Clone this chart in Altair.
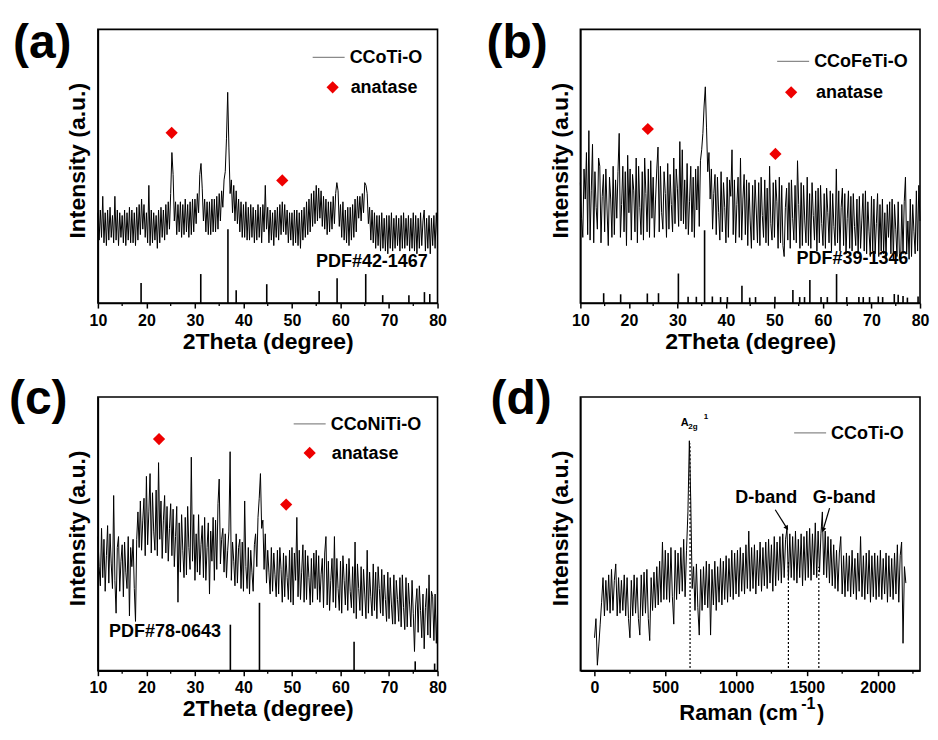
import altair as alt
import numpy as np
import pandas as pd

FONT = "Liberation Sans"
RED = "#ee0000"
W, H = 340, 274

XRD_TICKS = [10, 20, 30, 40, 50, 60, 70, 80]
XRD_MINOR = [15, 25, 35, 45, 55, 65, 75]
RAMAN_TICKS = [0, 500, 1000, 1500, 2000]
RAMAN_MINOR = [250, 750, 1250, 1750, 2250]

# ---------------- (a) CCoTi-O XRD, 10..80 step 0.25 ----------------
A_Y = [
    33, 23, 34, 24, 39, 22, 33, 21, 34, 23, 35, 24, 32, 22, 39, 23,
    34, 21, 33, 24, 32, 22, 34, 21, 33, 23, 35, 22, 34, 22, 33, 21,
    35, 23, 36, 25, 38, 27, 36, 24, 33, 22, 43, 21, 34, 22, 33, 23,
    32, 20, 34, 22, 35, 24, 34, 23, 36, 25, 37, 27, 40, 55, 47, 30,
    37, 25, 36, 26, 37, 24, 36, 25, 38, 26, 36, 24, 37, 25, 38, 26,
    38, 29, 40, 33, 47, 51, 42, 30, 38, 26, 37, 25, 37, 25, 38, 26,
    38, 26, 39, 27, 40, 30, 41, 35, 45, 48, 60, 77, 57, 40, 45, 33,
    43, 30, 41, 29, 38, 26, 37, 24, 36, 24, 37, 23, 35, 23, 36, 24,
    35, 22, 34, 23, 36, 24, 35, 22, 36, 26, 43, 27, 35, 22, 34, 23,
    33, 21, 34, 24, 35, 23, 36, 25, 37, 26, 36, 25, 34, 22, 33, 23,
    33, 21, 34, 22, 34, 21, 33, 20, 34, 23, 35, 24, 37, 25, 38, 26,
    40, 28, 41, 29, 43, 30, 42, 31, 41, 28, 39, 27, 38, 25, 37, 26,
    37, 27, 39, 29, 40, 44, 41, 28, 36, 24, 37, 23, 34, 22, 35, 21,
    35, 23, 36, 24, 38, 26, 39, 31, 39, 30, 40, 33, 44, 43, 40, 29,
    35, 23, 34, 22, 33, 20, 32, 21, 32, 19, 33, 20, 31, 19, 32, 18,
    32, 20, 33, 19, 31, 20, 32, 21, 31, 19, 32, 20, 33, 20, 31, 21,
    32, 19, 31, 20, 33, 19, 32, 18, 31, 20, 33, 21, 30, 34, 19, 31,
    20, 32, 18, 31, 21, 32, 20, 33, 24,
]
A_STICK_X = [18.9, 31.2, 36.8, 38.5, 44.8, 55.6, 59.3, 65.2, 68.7, 74.1, 77.3, 78.4]
A_STICK_H = [7.3, 10.6, 27.0, 4.7, 6.9, 4.4, 9.1, 10.6, 2.9, 2.9, 4.0, 3.3]
A_DIAM_X = [25.2, 48.0]
A_DIAM_Y = [62.2, 44.8]

# ---------------- (b) CCoFeTi-O XRD ----------------
B_Y = [
    44, 31, 24, 49, 38, 55, 25, 63, 23, 41, 58, 22, 48, 35, 27, 53,
    50, 22, 39, 47, 26, 49, 34, 21, 46, 38, 24, 50, 25, 45, 31, 48,
    62, 24, 36, 50, 26, 48, 21, 54, 33, 49, 23, 47, 41, 26, 53, 22,
    50, 35, 25, 48, 23, 53, 40, 26, 49, 24, 52, 31, 46, 24, 38, 49,
    57, 26, 50, 33, 27, 48, 40, 24, 51, 27, 47, 36, 26, 53, 29, 49,
    42, 28, 59, 30, 56, 29, 45, 27, 51, 25, 37, 50, 26, 46, 24, 49,
    34, 50, 28, 52, 56, 62, 72, 79, 64, 48, 55, 38, 49, 27, 40, 47,
    25, 46, 33, 23, 48, 26, 44, 35, 22, 46, 24, 45, 39, 56, 25, 45,
    22, 36, 46, 24, 53, 23, 38, 47, 25, 45, 21, 44, 30, 20, 43, 23,
    45, 34, 22, 44, 21, 46, 32, 24, 45, 22, 42, 21, 50, 29, 23, 44,
    24, 45, 37, 20, 46, 22, 43, 21, 17, 35, 42, 23, 44, 20, 45, 31,
    23, 43, 22, 52, 36, 20, 44, 21, 43, 30, 22, 46, 21, 40, 20, 44,
    32, 23, 41, 19, 42, 22, 43, 29, 21, 40, 20, 42, 33, 22, 41, 19,
    40, 28, 21, 49, 22, 41, 19, 35, 42, 21, 40, 18, 31, 41, 20, 39,
    19, 40, 28, 21, 38, 18, 39, 20, 30, 40, 19, 41, 18, 37, 26, 17,
    39, 19, 38, 18, 29, 40, 17, 36, 19, 38, 18, 33, 16, 36, 24, 37,
    18, 38, 16, 36, 27, 17, 37, 18, 15, 36, 18, 37, 46, 18, 30, 16,
    38, 17, 36, 26, 18, 41, 19, 43, 30,
]
B_STICK_X = [14.8, 18.3, 23.8, 26.1, 30.2, 32.2, 33.9, 35.6, 37.2, 38.9, 40.3,
             43.3, 44.9, 46.1, 50.1, 53.8, 55.2, 56.2, 57.3, 59.6, 60.9, 62.8,
             64.9, 67.4, 68.3, 69.6, 71.4, 72.3, 74.7, 75.5, 76.5, 77.4, 79.6]
B_STICK_H = [3.6, 3.2, 3.5, 3.6, 10.8, 2.3, 2.3, 26.6, 2.4, 2.2, 2.2,
             6.3, 2.0, 2.2, 2.3, 4.8, 2.2, 2.2, 8.4, 2.2, 2.2, 10.6,
             2.2, 2.2, 2.2, 2.2, 2.4, 2.2, 3.3, 3.0, 2.6, 2.0, 2.4]
B_DIAM_X = [23.9, 50.2]
B_DIAM_Y = [63.6, 54.5]

# ---------------- (c) CCoNiTi-O XRD ----------------
C_Y = [
    49, 38, 31, 52, 34, 48, 29, 42, 53, 32, 50, 39, 30, 64, 33, 21,
    45, 49, 29, 40, 46, 27, 47, 36, 30, 49, 20, 45, 38, 48, 30, 18,
    48, 58, 45, 62, 44, 55, 63, 42, 71, 46, 58, 72, 43, 65, 51, 44,
    66, 42, 76, 48, 62, 41, 55, 64, 43, 60, 40, 52, 61, 42, 59, 38,
    49, 60, 25, 54, 36, 57, 44, 34, 56, 35, 60, 45, 37, 78, 40, 57,
    33, 50, 36, 57, 35, 46, 53, 34, 56, 33, 45, 54, 28, 51, 40, 56,
    33, 55, 37, 61, 70, 39, 48, 52, 36, 50, 34, 44, 51, 80, 33, 47,
    40, 31, 50, 32, 45, 48, 30, 47, 29, 62, 38, 30, 45, 28, 44, 36,
    29, 46, 50, 38, 56, 63, 72, 52, 55, 37, 50, 32, 44, 36, 28, 45,
    29, 43, 35, 27, 44, 28, 45, 37, 25, 43, 27, 42, 34, 26, 44, 25,
    45, 24, 43, 33, 56, 27, 44, 26, 36, 46, 25, 44, 26, 42, 34, 24,
    41, 25, 43, 30, 44, 26, 42, 25, 35, 41, 23, 43, 49, 24, 40, 22,
    33, 41, 25, 49, 23, 41, 30, 22, 40, 21, 42, 33, 24, 39, 22, 41,
    29, 23, 38, 21, 47, 19, 39, 30, 22, 38, 20, 37, 28, 19, 44, 21,
    36, 27, 20, 39, 22, 36, 19, 38, 30, 21, 37, 20, 35, 26, 18, 36,
    19, 34, 24, 17, 35, 17, 33, 26, 18, 34, 16, 35, 23, 15, 34, 16,
    32, 24, 16, 33, 21, 7, 24, 30, 14, 31, 22, 12, 28, 8, 23, 30,
    13, 35, 12, 29, 27, 11, 28, 10, 21,
]
C_STICK_X = [37.3, 43.3, 62.8, 75.4, 79.4]
C_STICK_H = [16.8, 24.8, 10.6, 3.4, 2.6]
C_DIAM_X = [22.6, 48.8]
C_DIAM_Y = [84.6, 60.7]

# ---------------- (d) Raman, 0..2200 step 10 ----------------
D_Y = [
    12, 19, 2, 9, 17, 25, 34, 20, 33, 22,
    35, 21, 37, 22, 33, 39, 20, 34, 21, 33,
    22, 35, 20, 34, 19, 12, 33, 20, 35, 21,
    34, 19, 13, 35, 20, 36, 21, 37, 19, 11,
    34, 22, 36, 23, 38, 24, 40, 25, 47, 26,
    44, 26, 43, 25, 45, 27, 17, 44, 26, 43,
    28, 45, 29, 48, 27, 44, 58, 84, 62, 30,
    38, 22, 39, 23, 13, 37, 22, 38, 24, 40,
    23, 39, 13, 37, 24, 40, 22, 38, 25, 41,
    24, 40, 26, 42, 25, 41, 27, 44, 26, 43,
    28, 44, 27, 45, 29, 43, 28, 46, 30, 51,
    29, 45, 30, 46, 28, 44, 31, 47, 29, 45,
    31, 47, 30, 48, 32, 46, 29, 49, 31, 47,
    33, 49, 32, 50, 34, 48, 52, 33, 50, 34,
    49, 33, 51, 32, 48, 34, 50, 31, 49, 33,
    51, 34, 52, 33, 50, 35, 54, 34, 51, 36,
    50, 58, 35, 51, 34, 49, 32, 48, 31, 46,
    30, 44, 29, 43, 49, 28, 42, 27, 43, 29,
    42, 27, 44, 28, 41, 26, 43, 29, 49, 27,
    42, 26, 43, 28, 44, 25, 42, 27, 43, 26,
    42, 27, 44, 26, 41, 28, 43, 25, 42, 27,
    41, 26, 43, 28, 46, 25, 42, 47, 10, 38,
    32,
]
D_DASH_X = [675, 1370, 1585]
D_DASH_TOP = [83, 40, 38]
D_ARROW_X1 = [1277, 1661]
D_ARROW_Y1 = [58.8, 59.4]
D_ARROW_X2 = [1359, 1615]
D_ARROW_Y2 = [52.1, 51.4]
D_ARROW_ANGLE = [147, 197]

assert len(A_Y) == 281 and len(B_Y) == 281 and len(C_Y) == 281, (len(A_Y), len(B_Y), len(C_Y))
assert len(D_Y) == 221, len(D_Y)

XRD_X = [round(10 + 0.25 * i, 2) for i in range(281)]
RAMAN_X = [10 * i for i in range(221)]


def one(**kw):
    return alt.Chart(pd.DataFrame({k: [v] for k, v in kw.items()}))


def x_axis(title, values):
    return alt.Axis(values=values, grid=False, domainColor="black", domainWidth=1.5,
                    tickColor="black", tickWidth=1.5, tickSize=5, labelFont=FONT,
                    labelFontSize=16, labelFontWeight="bold", labelColor="black",
                    labelPadding=4, labelFlush=False, labelOverlap=False, format="d",
                    titleFont=FONT, titleFontSize=23, titleFontWeight="bold",
                    titleColor="black", titlePadding=2, title=title)


def y_axis():
    return alt.Axis(title="Intensity (a.u.)", labels=False, ticks=False, grid=False,
                    domainColor="black", domainWidth=1.5, titleFont=FONT,
                    titleFontSize=23, titleFontWeight="bold", titleColor="black",
                    titlePadding=8, titleY=131)


def txt(text, size=18, align="left", baseline="middle", weight="bold"):
    return dict(text=text, font=FONT, fontSize=size, fontWeight=weight,
                align=align, baseline=baseline, color="black")


class Enc:
    def __init__(self, xs, ys, xtitle, xticks):
        self.xs, self.ys, self.xtitle, self.xticks = xs, ys, xtitle, xticks

    def X(self, f):
        return alt.X(f, type="quantitative", scale=self.xs,
                     axis=x_axis(self.xtitle, self.xticks))

    def Y(self, f):
        return alt.Y(f, type="quantitative", scale=self.ys, axis=y_axis())


def base_layers(e, xvals, yvals, minor, label, label_xy):
    df = pd.DataFrame({"x": xvals, "y": yvals})
    trace = alt.Chart(df).mark_line(color="black", strokeWidth=1.0).encode(
        x=e.X("x"), y=e.Y("y"))
    mdf = pd.DataFrame({"m": minor})
    minor_l = alt.Chart(mdf).mark_rule(color="black", strokeWidth=1.3).encode(
        x=e.X("m"), y=alt.value(H), y2=alt.value(H + 3))
    lab = one(t=label).mark_text(**txt(label, size=48, baseline="alphabetic")).encode(
        x=alt.value(label_xy[0]), y=alt.value(label_xy[1]))
    return [trace, minor_l, lab]


def legend_layers(name, lx, ly, dia=None):
    out = [
        one(t=name).mark_rule(color="#8a8a8a", strokeWidth=1.2).encode(
            x=alt.value(lx), x2=alt.value(lx + 32), y=alt.value(ly)),
        one(t=name).mark_text(**txt(name)).encode(
            x=alt.value(lx + 37), y=alt.value(ly + 1)),
    ]
    if dia is not None:
        out += [
            one(t="anatase").mark_point(shape="diamond", filled=True, color=RED,
                                        size=150, opacity=1).encode(
                x=alt.value(dia[0]), y=alt.value(dia[1])),
            one(t="anatase").mark_text(**txt("anatase")).encode(
                x=alt.value(dia[2]), y=alt.value(dia[1] + 1)),
        ]
    return out


def xrd_panel(label, label_xy, yvals, sx, sh, dx, dy, name, leg, pdf, pdf_xy, pdf_align):
    e = Enc(alt.Scale(domain=[10, 80], nice=False, zero=False),
            alt.Scale(domain=[0, 100], nice=False, zero=False),
            "2Theta (degree)", XRD_TICKS)
    layers = base_layers(e, XRD_X, yvals, XRD_MINOR, label, label_xy)
    sdf = pd.DataFrame({"p": sx, "h": sh, "b": [0] * len(sx)})
    sticks = alt.Chart(sdf).mark_rule(color="black", strokeWidth=1.6).encode(
        x=e.X("p"), y=e.Y("b"), y2="h:Q")
    ddf = pd.DataFrame({"x": dx, "y": dy})
    dia = alt.Chart(ddf).mark_point(shape="diamond", filled=True, color=RED,
                                    size=150, opacity=1).encode(x=e.X("x"), y=e.Y("y"))
    pdft = one(x=pdf_xy[0], y=pdf_xy[1]).mark_text(**txt(pdf, align=pdf_align)).encode(
        x=e.X("x"), y=e.Y("y"))
    layers = [layers[0], sticks, dia, pdft] + layers[1:] + legend_layers(name, *leg)
    return alt.layer(*layers).properties(width=W, height=H)


pa = xrd_panel("(a)", (-85, 29), A_Y, A_STICK_X, A_STICK_H, A_DIAM_X, A_DIAM_Y,
               "CCoTi-O", (215, 28, (235, 58, 253)), "PDF#42-1467", (78.0, 15), "right")
pb = xrd_panel("(b)", (-94, 29), B_Y, B_STICK_X, B_STICK_H, B_DIAM_X, B_DIAM_Y,
               "CCoFeTi-O", (197, 32, (211, 63, 236)), "PDF#39-1346", (77.6, 16), "right")
pc = xrd_panel("(c)", (-89, 17), C_Y, C_STICK_X, C_STICK_H, C_DIAM_X, C_DIAM_Y,
               "CCoNiTi-O", (196, 27, (212, 56, 234)), "PDF#78-0643", (12.3, 14.3), "left")

# ---------------- panel d ----------------
ed = Enc(alt.Scale(domain=[-100, 2300], nice=False, zero=False),
         alt.Scale(domain=[0, 100], nice=False, zero=False), None, RAMAN_TICKS)
d_layers = base_layers(ed, RAMAN_X, D_Y, RAMAN_MINOR, "(d)", (-90, 17))
dash = alt.Chart(pd.DataFrame({"x": D_DASH_X, "t": D_DASH_TOP, "b": [1] * 3})).mark_rule(
    color="black", strokeWidth=1.2, strokeDash=[2, 2]).encode(
    x=ed.X("x"), y=ed.Y("b"), y2="t:Q")
arr_df = pd.DataFrame({"x1": D_ARROW_X1, "y1": D_ARROW_Y1, "x2": D_ARROW_X2,
                       "y2": D_ARROW_Y2, "a": D_ARROW_ANGLE})
arr_line = alt.Chart(arr_df).mark_rule(color="black", strokeWidth=1.2).encode(
    x=ed.X("x1"), y=ed.Y("y1"), x2="x2:Q", y2="y2:Q")
arr_head = alt.Chart(arr_df).mark_point(shape="triangle-up", filled=True, color="black",
                                        size=28, opacity=1).encode(
    x=ed.X("x2"), y=ed.Y("y2"), angle=alt.Angle("a:Q", scale=None))
bands = alt.Chart(pd.DataFrame({"x": [1213, 1765], "y": [63, 63],
                                "t": ["D-band", "G-band"]})).mark_text(
    font=FONT, fontSize=18, fontWeight="bold", align="center", baseline="middle",
    color="black").encode(x=ed.X("x"), y=ed.Y("y"), text="t:N")
a2g = [
    one(t="A").mark_text(**txt("A", size=11, baseline="alphabetic")).encode(
        x=alt.value(100.5), y=alt.value(29.5)),
    one(t="2g").mark_text(**txt("2g", size=8, baseline="alphabetic")).encode(
        x=alt.value(108), y=alt.value(32)),
    one(t="1").mark_text(**txt("1", size=8, baseline="alphabetic")).encode(
        x=alt.value(123.5), y=alt.value(22)),
]
raman_title = [
    one(t="Raman (cm").mark_text(**txt("Raman (cm", size=22, baseline="alphabetic")).encode(
        x=alt.value(99), y=alt.value(323)),
    one(t="-1").mark_text(**txt("-1", size=16, baseline="alphabetic")).encode(
        x=alt.value(221), y=alt.value(312)),
    one(t=")").mark_text(**txt(")", size=22, baseline="alphabetic")).encode(
        x=alt.value(237), y=alt.value(323)),
]
pd_ = alt.layer(*([d_layers[0], dash, arr_line, arr_head, bands] + a2g + raman_title
                  + d_layers[1:] + legend_layers("CCoTi-O", 214, 36))).properties(
    width=W, height=H)

chart = alt.ConcatChart(
    concat=[pa, pb, pc, pd_], columns=2,
    spacing={"row": 94, "column": 143}, bounds="flush",
).configure_view(stroke="black", strokeWidth=1.6).properties(
    padding={"left": 0, "top": 11, "right": 0, "bottom": 0})

chart.save("out.html", embed_options={"renderer": "svg", "actions": False})
